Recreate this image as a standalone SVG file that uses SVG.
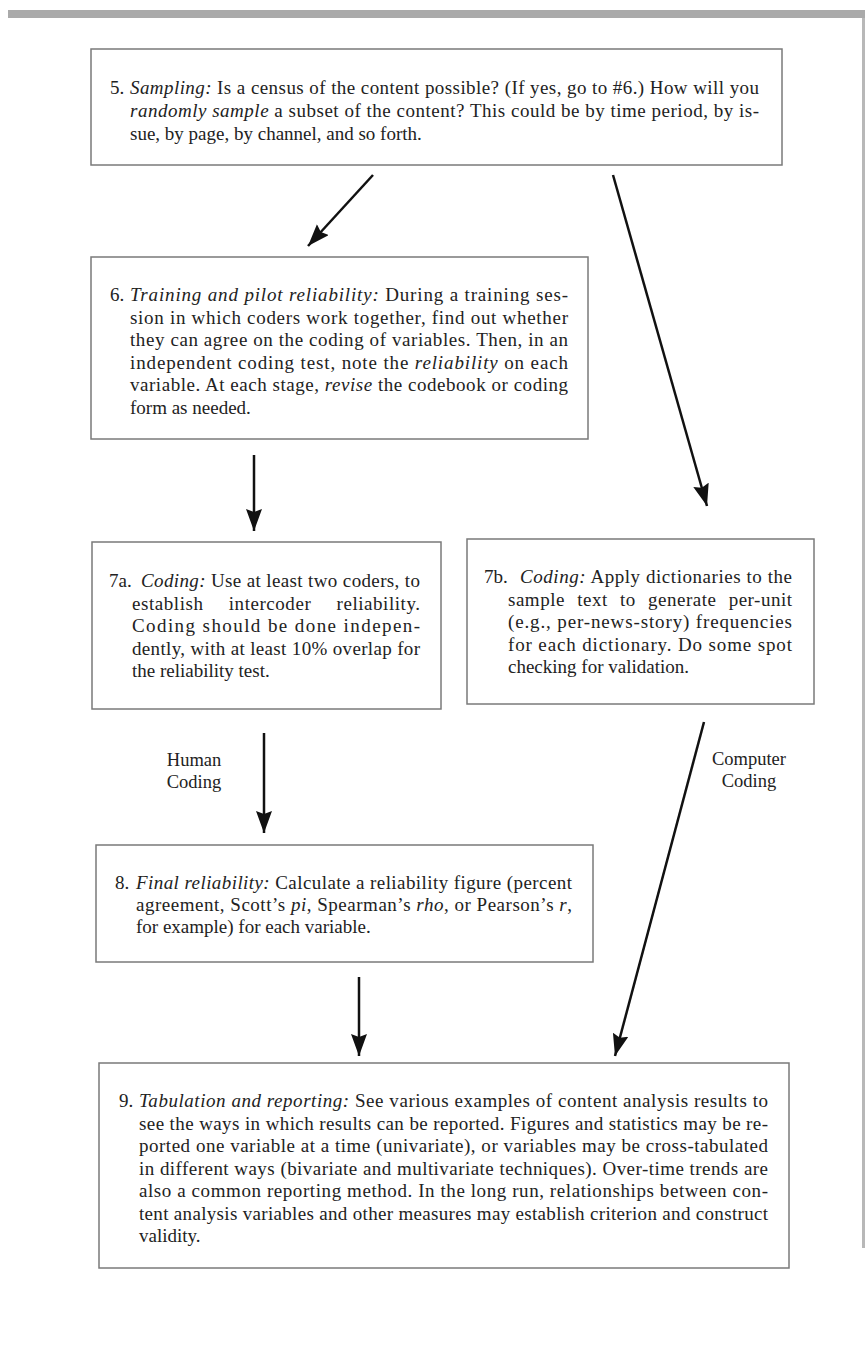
<svg xmlns="http://www.w3.org/2000/svg" width="865" height="1351" viewBox="0 0 865 1351">
<defs>
<style>
.box{fill:#ffffff;stroke:#7a7a7a;stroke-width:1.5}
.t{font-family:"Liberation Serif","Times New Roman",serif;font-size:19px;fill:#222}
.i{font-style:italic}
.lbl{font-family:"Liberation Serif","Times New Roman",serif;font-size:18.5px;fill:#222;text-anchor:middle}
.arr{stroke:#111;stroke-width:2.5;fill:none;marker-end:url(#ah)}
</style>
<marker id="ah" markerUnits="userSpaceOnUse" markerWidth="24" markerHeight="18" refX="22" refY="8" orient="auto" viewBox="0 0 24 18">
<path d="M0,0 L22,8 L0,16 L3,8 Z" fill="#111"/>
</marker>
</defs>
<rect x="0" y="0" width="865" height="1351" fill="#ffffff"/>
<rect x="8" y="10" width="857" height="8" fill="#aaaaaa"/>
<rect x="862" y="18" width="3" height="1230" fill="#b8b8b8"/>

<g id="node5">
<rect class="box" x="91" y="49" width="691" height="116"/>
<text class="t" x="110" y="94">5.</text>
<text class="t" x="130" y="94" textLength="629" lengthAdjust="spacing"><tspan class="i">Sampling:</tspan> Is a census of the content possible? (If yes, go to #6.) How will you</text>
<text class="t" x="130" y="117" textLength="629" lengthAdjust="spacing"><tspan class="i">randomly sample</tspan> a subset of the content? This could be by time period, by is-</text>
<text class="t" x="130" y="140">sue, by page, by channel, and so forth.</text>
</g>

<g id="node6">
<rect class="box" x="91" y="257" width="497" height="182"/>
<text class="t" x="110" y="301">6.</text>
<text class="t" x="130" y="301" textLength="438" lengthAdjust="spacing"><tspan class="i">Training and pilot reliability:</tspan> During a training ses-</text>
<text class="t" x="130" y="323.5" textLength="438" lengthAdjust="spacing">sion in which coders work together, find out whether</text>
<text class="t" x="130" y="346" textLength="438" lengthAdjust="spacing">they can agree on the coding of variables. Then, in an</text>
<text class="t" x="130" y="368.5" textLength="438" lengthAdjust="spacing">independent coding test, note the <tspan class="i">reliability</tspan> on each</text>
<text class="t" x="130" y="391" textLength="438" lengthAdjust="spacing">variable. At each stage, <tspan class="i">revise</tspan> the codebook or coding</text>
<text class="t" x="130" y="413.5">form as needed.</text>
</g>

<g id="node7a">
<rect class="box" x="92" y="542" width="349" height="167"/>
<text class="t" x="109" y="587">7a.</text>
<text class="t" x="141" y="587" textLength="279" lengthAdjust="spacing"><tspan class="i">Coding:</tspan> Use at least two coders, to</text>
<text class="t" x="132" y="609.5" word-spacing="20" textLength="288" lengthAdjust="spacing">establish intercoder reliability.</text>
<text class="t" x="132" y="632" textLength="288" lengthAdjust="spacing">Coding should be done indepen-</text>
<text class="t" x="132" y="654.5" textLength="288" lengthAdjust="spacing">dently, with at least 10% overlap for</text>
<text class="t" x="132" y="677">the reliability test.</text>
</g>

<g id="node7b">
<rect class="box" x="467" y="539" width="347" height="165"/>
<text class="t" x="484" y="583">7b.</text>
<text class="t" x="520" y="583" textLength="272" lengthAdjust="spacing"><tspan class="i">Coding:</tspan> Apply dictionaries to the</text>
<text class="t" x="508" y="605.5" word-spacing="7" textLength="284" lengthAdjust="spacing">sample text to generate per-unit</text>
<text class="t" x="508" y="628" textLength="284" lengthAdjust="spacing">(e.g., per-news-story) frequencies</text>
<text class="t" x="508" y="650.5" textLength="284" lengthAdjust="spacing">for each dictionary. Do some spot</text>
<text class="t" x="508" y="673">checking for validation.</text>
</g>

<g id="node8">
<rect class="box" x="96" y="845" width="497" height="117"/>
<text class="t" x="115" y="889">8.</text>
<text class="t" x="136" y="889" textLength="436" lengthAdjust="spacing"><tspan class="i">Final reliability:</tspan> Calculate a reliability figure (percent</text>
<text class="t" x="136" y="911" textLength="436" lengthAdjust="spacing">agreement, Scott’s <tspan class="i">pi</tspan>, Spearman’s <tspan class="i">rho</tspan>, or Pearson’s <tspan class="i">r</tspan>,</text>
<text class="t" x="136" y="933">for example) for each variable.</text>
</g>

<g id="node9">
<rect class="box" x="99" y="1063" width="690" height="205"/>
<text class="t" x="119" y="1107">9.</text>
<text class="t" x="139" y="1107" textLength="629" lengthAdjust="spacing"><tspan class="i">Tabulation and reporting:</tspan> See various examples of content analysis results to</text>
<text class="t" x="139" y="1129.5" textLength="629" lengthAdjust="spacing">see the ways in which results can be reported. Figures and statistics may be re-</text>
<text class="t" x="139" y="1152" textLength="629" lengthAdjust="spacing">ported one variable at a time (univariate), or variables may be cross-tabulated</text>
<text class="t" x="139" y="1174.5" textLength="629" lengthAdjust="spacing">in different ways (bivariate and multivariate techniques). Over-time trends are</text>
<text class="t" x="139" y="1197" textLength="629" lengthAdjust="spacing">also a common reporting method. In the long run, relationships between con-</text>
<text class="t" x="139" y="1219.5" textLength="629" lengthAdjust="spacing">tent analysis variables and other measures may establish criterion and construct</text>
<text class="t" x="139" y="1242">validity.</text>
</g>

<g id="connectors">
<line class="arr" x1="373" y1="175" x2="308" y2="246"/>
<line class="arr" x1="613" y1="175" x2="707" y2="506"/>
<line class="arr" x1="254" y1="455" x2="254" y2="531"/>
<line class="arr" x1="264" y1="733" x2="264" y2="833"/>
<line class="arr" x1="704" y1="722" x2="615" y2="1056"/>
<line class="arr" x1="359" y1="977" x2="359" y2="1056"/>
<text class="lbl" x="194" y="766">Human</text>
<text class="lbl" x="194" y="788">Coding</text>
<text class="lbl" x="749" y="765">Computer</text>
<text class="lbl" x="749" y="787">Coding</text>
</g>
</svg>
